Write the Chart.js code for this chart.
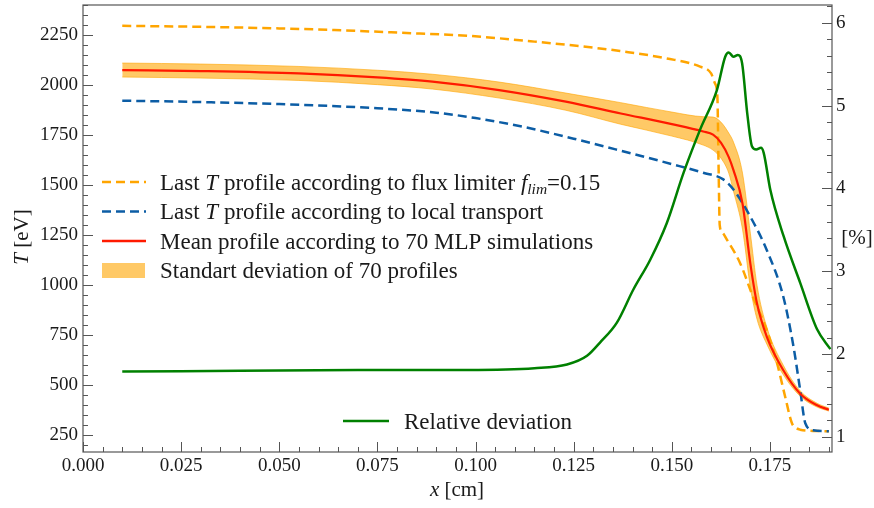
<!DOCTYPE html>
<html>
<head>
<meta charset="utf-8">
<script src="https://cdn.jsdelivr.net/npm/chart.js@4.4.1/dist/chart.umd.min.js"></script>
<style>
  html, body { margin: 0; padding: 0; background: #fff; }
  canvas { display: block; }
</style>
</head>
<body>
<canvas id="chart" width="874" height="508"></canvas>
<script>
// tick labels
const xTicks = [0, 0.025, 0.05, 0.075, 0.1, 0.125, 0.15, 0.175];
const tTicks = [250, 500, 750, 1000, 1250, 1500, 1750, 2000, 2250];
const pctTicks = [1, 2, 3, 4, 5, 6];

// last T profile, flux limiter f_lim = 0.15
const fluxX = [0.010, 0.030, 0.050, 0.064, 0.080, 0.098, 0.115, 0.1317, 0.1368, 0.1487, 0.1572, 0.1600, 0.1610, 0.1616, 0.1619, 0.1622, 0.1628, 0.1641, 0.1674, 0.1707, 0.1742, 0.1768, 0.1789, 0.1806, 0.1818, 0.1827, 0.1860, 0.1900];
const fluxT = [2296, 2291, 2283, 2275, 2262, 2246, 2217, 2183, 2170, 2133, 2092, 2058, 2008, 1942, 1600, 1300, 1265, 1225, 1110, 940, 775, 610, 440, 310, 285, 278, 272, 270];

// last T profile, local transport
const localX = [0.010, 0.030, 0.050, 0.075, 0.090, 0.100, 0.112, 0.125, 0.137, 0.150, 0.158, 0.163, 0.1657, 0.170, 0.1742, 0.1784, 0.181, 0.1827, 0.184, 0.186, 0.190];
const localT = [1922, 1915, 1905, 1884, 1862, 1835, 1792, 1732, 1672, 1605, 1562, 1530, 1478, 1342, 1175, 942, 692, 475, 310, 275, 270];

// mean of 70 MLP runs and its +/- std band
const meanX = [0.010, 0.030, 0.055, 0.075, 0.089, 0.106, 0.123, 0.137, 0.150, 0.158, 0.1605, 0.1625, 0.1645, 0.1657, 0.168, 0.170, 0.1717, 0.1742, 0.1784, 0.1827, 0.187, 0.190];
const meanT = [2075, 2070, 2058, 2038, 2017, 1975, 1917, 1858, 1805, 1768, 1752, 1712, 1640, 1575, 1408, 1108, 908, 742, 575, 458, 400, 378];
const bandHi = [2110, 2105, 2093, 2074, 2054, 2015, 1960, 1912, 1865, 1842, 1840, 1815, 1760, 1715, 1560, 1260, 1000, 790, 600, 472, 410, 386];
const bandLo = [2040, 2035, 2023, 2002, 1980, 1935, 1874, 1804, 1745, 1700, 1675, 1635, 1560, 1470, 1280, 990, 830, 705, 552, 445, 391, 371];

// relative deviation [%] (right axis)
const devX = [0.010, 0.040, 0.070, 0.098, 0.115, 0.1233, 0.1284, 0.1317, 0.136, 0.1402, 0.1445, 0.1487, 0.153, 0.1572, 0.1615, 0.1636, 0.1645, 0.1657, 0.1668, 0.1679, 0.1692, 0.1704, 0.1715, 0.1727, 0.1734, 0.1751, 0.1785, 0.1827, 0.187, 0.1904];
const devP = [1.79, 1.80, 1.81, 1.81, 1.83, 1.875, 1.98, 2.14, 2.38, 2.78, 3.14, 3.58, 4.19, 4.71, 5.19, 5.59, 5.64, 5.59, 5.61, 5.51, 4.91, 4.51, 4.47, 4.49, 4.43, 3.98, 3.42, 2.86, 2.30, 2.06];

const SERIF = '"Liberation Serif", "DejaVu Serif", serif';
const AXIS = '#555';
const TXT = '#1a1a1a';
const ORANGE = '#FFA500';
const BLUE = '#0C5DA5';
const RED = '#FF1A00';
const GREEN = '#008000';
const BAND = 'rgba(255,165,0,0.6)';

const pts = (xs, ys) => xs.map((x, i) => ({ x: x, y: ys[i] }));

// draws text made of pieces [text, size, italic, dy]
function richWidth(ctx, parts) {
  let w = 0;
  for (const p of parts) {
    ctx.font = (p[2] ? 'italic ' : '') + p[1] + 'px ' + SERIF;
    w += ctx.measureText(p[0]).width;
  }
  return w;
}
function drawRich(ctx, x, y, parts) {
  for (const p of parts) {
    ctx.font = (p[2] ? 'italic ' : '') + p[1] + 'px ' + SERIF;
    ctx.fillText(p[0], x, y + (p[3] || 0));
    x += ctx.measureText(p[0]).width;
  }
}

// no extra room for overflowing tick labels
function fixSize(prop, size) {
  return s => {
    s[prop] = size;
    s.paddingTop = 0; s.paddingBottom = 0; s.paddingLeft = 0; s.paddingRight = 0;
  };
}

const decor = {
  id: 'decor',
  afterDraw(chart) {
    const ctx = chart.ctx;
    const a = chart.chartArea;
    const sx = chart.scales.x, sl = chart.scales.y, sr = chart.scales.y2;
    ctx.save();

    // frame
    ctx.strokeStyle = AXIS;
    ctx.lineWidth = 1.2;
    ctx.strokeRect(a.left, a.top, a.right - a.left, a.bottom - a.top);

    // inward ticks
    ctx.lineWidth = 1;
    ctx.beginPath();
    for (let v = 0; v <= sx.max + 1e-9; v += 0.005) {
      const px = Math.round(sx.getPixelForValue(v)) + 0.5;
      const major = Math.abs(v / 0.025 - Math.round(v / 0.025)) < 1e-6;
      ctx.moveTo(px, a.bottom);
      ctx.lineTo(px, a.bottom - (major ? 10 : 5));
    }
    for (let v = 200; v <= sl.max; v += 50) {
      const py = Math.round(sl.getPixelForValue(v)) + 0.5;
      ctx.moveTo(a.left, py);
      ctx.lineTo(a.left + (v % 250 === 0 ? 10 : 5), py);
    }
    for (let k = 5; k <= 31; k++) {
      const v = k / 5;
      if (v < sr.min || v > sr.max) continue;
      const py = Math.round(sr.getPixelForValue(v)) + 0.5;
      ctx.moveTo(a.right, py);
      ctx.lineTo(a.right - (k % 5 === 0 ? 10 : 5), py);
    }
    ctx.stroke();

    // axis titles
    ctx.fillStyle = TXT;
    ctx.textBaseline = 'middle';
    const xt = [['x', 21, true], [' [cm]', 21, false]];
    drawRich(ctx, 457 - richWidth(ctx, xt) / 2, 490, xt);
    const yt = [['T', 21, true], [' [eV]', 21, false]];
    ctx.save();
    ctx.translate(22, 237);
    ctx.rotate(-Math.PI / 2);
    drawRich(ctx, -richWidth(ctx, yt) / 2, 0, yt);
    ctx.restore();
    const rt = [['[%]', 21, false]];
    drawRich(ctx, 857 - richWidth(ctx, rt) / 2, 238, rt);

    // legend
    ctx.textBaseline = 'alphabetic';
    const FS = 23;
    const rows = [
      { y: 182, kind: 'dash', color: ORANGE, parts: [['Last ', FS], ['T', FS, true], [' profile according to flux limiter ', FS], ['f', FS, true], ['lim', 15.5, true, 4], ['=0.15', FS]] },
      { y: 211.5, kind: 'dash', color: BLUE, parts: [['Last ', FS], ['T', FS, true], [' profile according to local transport', FS]] },
      { y: 241, kind: 'line', color: RED, parts: [['Mean profile according to 70 MLP simulations', FS]] },
      { y: 270.5, kind: 'box', color: BAND, parts: [['Standart deviation of 70 profiles', FS]] },
    ];
    for (const r of rows) {
      ctx.lineWidth = 2.4;
      if (r.kind === 'box') {
        ctx.fillStyle = BAND;
        ctx.fillRect(102, r.y - 7.5, 43, 15);
      } else {
        ctx.strokeStyle = r.color;
        ctx.setLineDash(r.kind === 'dash' ? [9, 5] : []);
        ctx.beginPath();
        ctx.moveTo(102, r.y);
        ctx.lineTo(146, r.y);
        ctx.stroke();
        ctx.setLineDash([]);
      }
      ctx.fillStyle = TXT;
      drawRich(ctx, 160, r.y + 7.5, r.parts);
    }
    ctx.strokeStyle = GREEN;
    ctx.lineWidth = 2.5;
    ctx.beginPath();
    ctx.moveTo(343, 421);
    ctx.lineTo(389, 421);
    ctx.stroke();
    ctx.fillStyle = TXT;
    drawRich(ctx, 404, 428.5, [['Relative deviation', FS]]);

    ctx.restore();
  }
};

const tickFont = { family: SERIF, size: 19 };

new Chart(document.getElementById('chart'), {
  type: 'line',
  data: {
    datasets: [
      { label: 'Relative deviation', data: pts(devX, devP), yAxisID: 'y2', borderColor: GREEN, borderWidth: 2.5, order: 0 },
      { label: 'Mean profile according to 70 MLP simulations', data: pts(meanX, meanT), yAxisID: 'y', borderColor: RED, borderWidth: 2.2, order: 1 },
      { label: 'Last T profile according to local transport', data: pts(localX, localT), yAxisID: 'y', borderColor: BLUE, borderWidth: 2.5, borderDash: [9, 5], order: 2 },
      { label: 'Last T profile according to flux limiter', data: pts(fluxX, fluxT), yAxisID: 'y', borderColor: ORANGE, borderWidth: 2.5, borderDash: [9, 5], order: 3 },
      { label: 'std hi', data: pts(meanX, bandHi), yAxisID: 'y', borderColor: BAND, backgroundColor: BAND, borderWidth: 1, fill: '+1', order: 4 },
      { label: 'std lo', data: pts(meanX, bandLo), yAxisID: 'y', borderColor: BAND, borderWidth: 1, fill: false, order: 5 },
    ]
  },
  options: {
    responsive: false,
    animation: false,
    devicePixelRatio: 1,
    layout: { autoPadding: false, padding: { top: 5, left: 0, right: 0, bottom: 0 } },
    elements: {
      point: { radius: 0 },
      line: { cubicInterpolationMode: 'monotone', borderCapStyle: 'butt' }
    },
    plugins: { legend: { display: false }, tooltip: { enabled: false } },
    scales: {
      x: {
        type: 'linear', min: 0, max: 0.1908,
        grid: { display: false, drawTicks: false },
        border: { display: false },
        afterBuildTicks: s => { s.ticks = xTicks.map(v => ({ value: v })); },
        afterFit: fixSize('height', 56),
        ticks: { font: tickFont, color: TXT, padding: 3, maxRotation: 0, autoSkip: false, callback: v => v.toFixed(3) }
      },
      y: {
        type: 'linear', position: 'left', min: 166.5, max: 2400,
        grid: { display: false, drawTicks: false },
        border: { display: false },
        afterBuildTicks: s => { s.ticks = tTicks.map(v => ({ value: v })); },
        afterFit: fixSize('width', 83),
        ticks: { font: tickFont, color: TXT, padding: 5, autoSkip: false, callback: v => String(v) }
      },
      y2: {
        type: 'linear', position: 'right', min: 0.819, max: 6.214,
        grid: { display: false, drawTicks: false },
        border: { display: false },
        afterBuildTicks: s => { s.ticks = pctTicks.map(v => ({ value: v })); },
        afterFit: fixSize('width', 42),
        ticks: { font: tickFont, color: TXT, padding: 4, autoSkip: false, callback: v => String(v) }
      }
    }
  },
  plugins: [decor]
});
</script>
</body>
</html>
